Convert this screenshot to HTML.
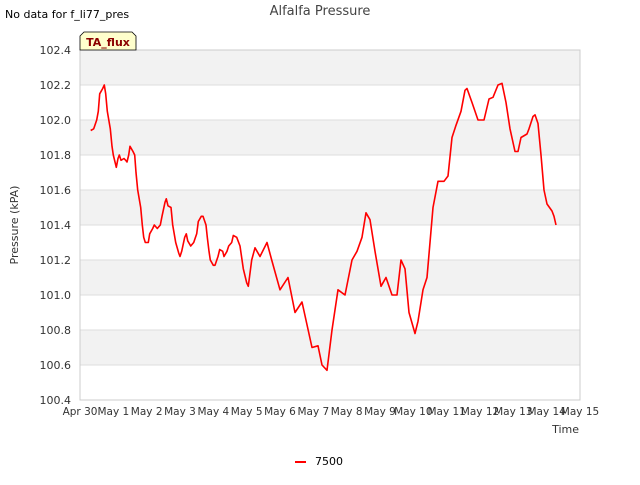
<!DOCTYPE html>
<html><head><meta charset="utf-8"><style>
body{margin:0;background:#fff;font-family:"Liberation Sans","DejaVu Sans",sans-serif;}
svg text{font-family:"DejaVu Sans","Liberation Sans",sans-serif;}
</style></head><body>
<svg id="c" width="640" height="480" xmlns="http://www.w3.org/2000/svg">
<text x="5" y="18" font-size="11" fill="#000">No data for f_li77_pres</text>
<text x="320" y="15" font-size="13" fill="#444" text-anchor="middle">Alfalfa Pressure</text>
<g id="bands"></g>
<g id="grid"></g>
<rect x="80" y="50" width="500" height="350" fill="none" stroke="#ccc"/>
<g id="yt"></g><g id="xt"></g>
<path id="ln" fill="none" stroke="#ff0000" stroke-width="1.6" stroke-linejoin="round"/>
<g>
<path d="M80,50 L80,36 L84,32 L132,32 L136,36 L136,50 Z" fill="#ffffcc" stroke="#000" stroke-width="0.8"/>
<text x="108" y="46" font-size="11" font-weight="bold" fill="#8b0000" text-anchor="middle">TA_flux</text>
</g>
<text x="18" y="225" font-size="11" fill="#333" text-anchor="middle" transform="rotate(-90 18 225)">Pressure (kPA)</text>
<text x="579" y="433" font-size="11" fill="#333" text-anchor="end">Time</text>
<g>
<line x1="295" y1="462" x2="306" y2="462" stroke="#ff0000" stroke-width="2"/>
<text x="315" y="465" font-size="11" fill="#000">7500</text>
</g>
</svg>
<script>
const xLabels=["Apr 30","May 1","May 2","May 3","May 4","May 5","May 6","May 7","May 8","May 9","May 10","May 11","May 12","May 13","May 14","May 15"];
const yTicks=[100.4,100.6,100.8,101.0,101.2,101.4,101.6,101.8,102.0,102.2,102.4];
const days=[0.32,0.41,0.5,0.55,0.59,0.68,0.73,0.77,0.82,0.91,0.96,1.0,1.09,1.14,1.18,1.23,1.32,1.37,1.41,1.46,1.5,1.59,1.64,1.68,1.73,1.82,1.87,1.91,1.96,2.05,2.09,2.18,2.23,2.32,2.41,2.46,2.55,2.59,2.64,2.73,2.78,2.87,2.96,3.0,3.05,3.14,3.19,3.23,3.32,3.41,3.5,3.55,3.64,3.69,3.78,3.82,3.87,3.91,4.0,4.05,4.14,4.19,4.28,4.32,4.41,4.46,4.55,4.6,
4.7,4.8,4.9,5.0,5.05,5.15,5.25,5.4,5.61,5.75,6.0,6.24,6.45,6.66,6.96,7.14,7.26,7.41,7.56,7.74,7.95,8.16,8.31,8.46,8.58,8.7,8.85,9.03,9.18,9.36,9.51,9.63,9.75,9.87,10.05,10.14,10.29,10.41,10.5,10.59,10.74,10.92,11.04,11.16,11.28,11.43,11.55,11.61,11.76,11.94,12.12,12.27,12.39,12.54,12.66,12.78,12.9,13.05,13.14,13.23,13.41,13.47,13.59,13.65,13.74,13.83,13.92,14.01,14.16,14.22,14.28];
const values=[101.94,101.95,102.0,102.05,102.15,102.18,102.2,102.15,102.05,101.95,101.85,101.8,101.73,101.78,101.8,101.77,101.78,101.77,101.76,101.8,101.85,101.82,101.8,101.7,101.6,101.5,101.4,101.33,101.3,101.3,101.35,101.38,101.4,101.38,101.4,101.45,101.53,101.55,101.51,101.5,101.4,101.3,101.24,101.22,101.25,101.33,101.35,101.31,101.28,101.3,101.35,101.42,101.45,101.45,101.4,101.33,101.25,101.2,101.17,101.17,101.22,101.26,101.25,101.22,101.25,101.28,101.3,101.34,
101.33,101.28,101.15,101.07,101.05,101.2,101.27,101.22,101.3,101.2,101.03,101.1,100.9,100.96,100.7,100.71,100.6,100.57,100.8,101.03,101.0,101.2,101.25,101.33,101.47,101.43,101.25,101.05,101.1,101.0,101.0,101.2,101.15,100.9,100.78,100.85,101.03,101.1,101.3,101.5,101.65,101.65,101.68,101.9,101.97,102.05,102.17,102.18,102.1,102.0,102.0,102.12,102.13,102.2,102.21,102.1,101.95,101.82,101.82,101.9,101.92,101.95,102.02,102.03,101.98,101.8,101.6,101.52,101.48,101.45,101.4];
const X=d=>80+d*500/15, Y=v=>400-(v-100.4)*175;
const NS="http://www.w3.org/2000/svg";
function mk(t,a,p){const e=document.createElementNS(NS,t);for(const k in a)e.setAttribute(k,a[k]);p.appendChild(e);return e;}
const bands=document.getElementById('bands'),grid=document.getElementById('grid'),yt=document.getElementById('yt'),xt=document.getElementById('xt');
for(let i=0;i<yTicks.length-1;i++){
  if(i%2===1){
    const r=mk('rect',{x:80,y:Y(yTicks[i+1]),width:500,height:Y(yTicks[i])-Y(yTicks[i+1]),fill:'#f2f2f2'},bands);
    
    
  }
}
yTicks.forEach(v=>{
  const l=mk('line',{x1:80,x2:580,y1:Y(v),y2:Y(v),stroke:'#ddd'},grid);
  
  
  const t=mk('text',{x:71,y:Y(v)+4,'font-size':11,fill:'#333','text-anchor':'end'},yt);
  t.textContent=v.toFixed(1);
  
  
});
xLabels.forEach((s,i)=>{
  const t=mk('text',{x:X(i),y:415,'font-size':10.5,fill:'#333','text-anchor':'middle'},xt);
  t.textContent=s;
  
  
});
const n=Math.min(days.length,values.length);
let d='';for(let i=0;i<n;i++)d+=(i?'L':'M')+X(days[i]).toFixed(1)+','+Y(values[i]).toFixed(1);
document.getElementById('ln').setAttribute('d',d);
</script>
</body></html>
